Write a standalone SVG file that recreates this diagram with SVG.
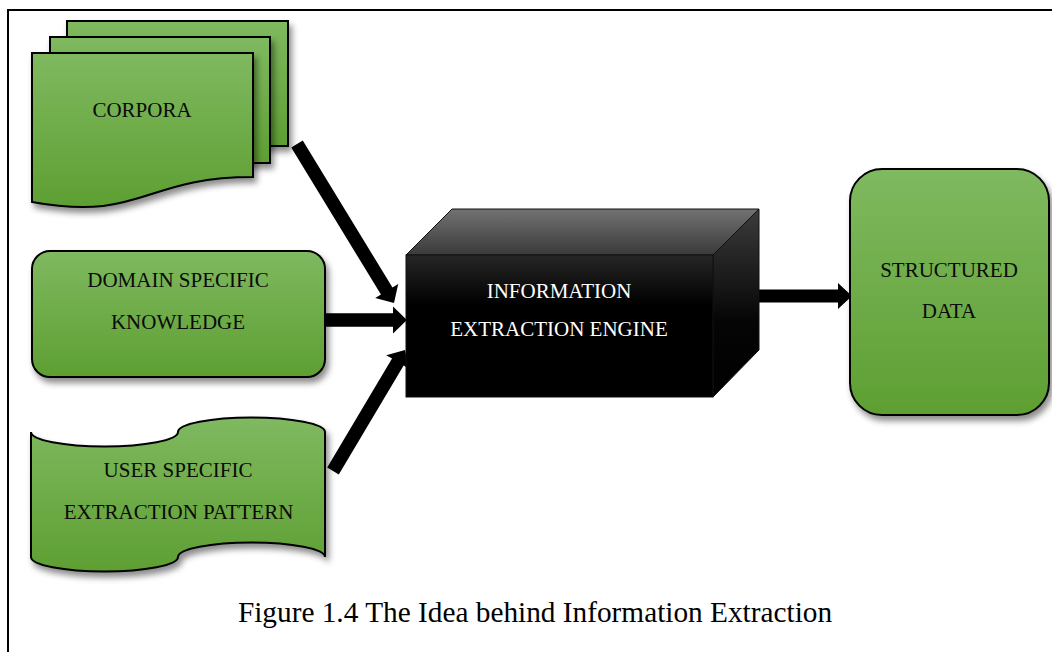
<svg xmlns="http://www.w3.org/2000/svg" width="1052" height="652" viewBox="0 0 1052 652">
  <defs>
    <linearGradient id="green" x1="0" y1="0" x2="0" y2="1">
      <stop offset="0" stop-color="#7fb960"/>
      <stop offset="1" stop-color="#5e9f32"/>
    </linearGradient>
    <linearGradient id="cubeTop" x1="0" y1="0" x2="0" y2="1">
      <stop offset="0" stop-color="#727272"/>
      <stop offset="1" stop-color="#3a3a3a"/>
    </linearGradient>
    <linearGradient id="cubeSide" x1="0" y1="0" x2="0" y2="1">
      <stop offset="0" stop-color="#3c3c3c"/>
      <stop offset="0.6" stop-color="#050505"/>
      <stop offset="1" stop-color="#000"/>
    </linearGradient>
    <linearGradient id="cubeFront" x1="0" y1="0" x2="0" y2="1">
      <stop offset="0" stop-color="#262626"/>
      <stop offset="0.35" stop-color="#000"/>
      <stop offset="1" stop-color="#000"/>
    </linearGradient>
    <filter id="shadow" x="-10%" y="-10%" width="125%" height="130%">
      <feDropShadow dx="3" dy="5" stdDeviation="3" flood-color="#000" flood-opacity="0.45"/>
    </filter>
  </defs>
  <style>
    .shape { fill: url(#green); stroke: #000; stroke-width: 2; filter: url(#shadow); }
    .label { font-family: "Liberation Serif", "Times New Roman", serif; font-size: 21px; fill: #0a0a0a; text-anchor: middle; }
    .light { fill: #ffffff; }
    .arrow { fill: #000; }
    .caption { font-family: "Liberation Serif", "Times New Roman", serif; font-size: 29.3px; fill: #000; text-anchor: middle; }
  </style>

  <rect width="1052" height="652" fill="#fff"/>
  <!-- page frame (open on the right and bottom) -->
  <path d="M8,652 V10 H1052" fill="none" stroke="#000" stroke-width="2"/>

  <!-- connectors (drawn beneath the engine block) -->
  <g id="connectors">
    <polygon class="arrow" points="302.76,140.48 392.47,287.53 398.23,284.02 394,303 375.19,298.08 380.95,294.57 291.24,147.52"/>
    <polygon class="arrow" points="325,313.25 393,313.25 393,306.5 407,320 393,333.5 393,326.75 325,326.75"/>
    <polygon class="arrow" points="338.8,474.45 403.64,365.48 409.44,368.93 405,350 386.24,355.13 392.04,358.58 327.2,467.55"/>
    <polygon class="arrow" points="748,289.5 838,289.5 838,283 852,296 838,309 838,302.5 748,302.5"/>
  </g>

  <!-- stacked documents -->
  <g id="corpora">
    <rect class="shape" x="67" y="21" width="221" height="125"/>
    <rect class="shape" x="50" y="37" width="220" height="126"/>
    <path class="shape" d="M32,53 H253 V177 C142.5,177 142.5,222 32,202 Z"/>
    <text class="label" x="142" y="117">CORPORA</text>
  </g>

  <g id="domain-knowledge">
    <rect class="shape" x="32" y="251" width="293" height="126" rx="18"/>
    <text class="label" x="178" y="287">DOMAIN SPECIFIC</text>
    <text class="label" x="178" y="329">KNOWLEDGE</text>
  </g>

  <!-- punched-tape shape -->
  <g id="user-pattern">
    <path class="shape" d="M31,432 A73.5,14.5 0 0 0 178,432 A73.5,14.5 0 0 1 325,432 V557 A73.5,14.5 0 0 0 178,557 A73.5,14.5 0 0 1 31,557 Z"/>
    <text class="label" x="178" y="477">USER SPECIFIC</text>
    <text class="label" x="178.5" y="519">EXTRACTION PATTERN</text>
  </g>

  <!-- 3D block -->
  <g id="engine">
    <polygon points="406,255 452,209 759,209 713,255" fill="url(#cubeTop)" stroke="#111" stroke-width="1"/>
    <polygon points="713,255 759,209 759,350 713,397" fill="url(#cubeSide)" stroke="#111" stroke-width="1"/>
    <rect x="406" y="255" width="307" height="142" fill="url(#cubeFront)" stroke="#111" stroke-width="1"/>
    <text class="label light" x="559" y="298">INFORMATION</text>
    <text class="label light" x="559" y="336">EXTRACTION ENGINE</text>
  </g>

  <g id="structured-data">
    <rect class="shape" x="850" y="169" width="199" height="246" rx="32"/>
    <text class="label" x="949" y="277">STRUCTURED</text>
    <text class="label" x="949" y="318">DATA</text>
  </g>

  <text class="caption" x="535" y="622">Figure 1.4 The Idea behind Information Extraction</text>
</svg>
